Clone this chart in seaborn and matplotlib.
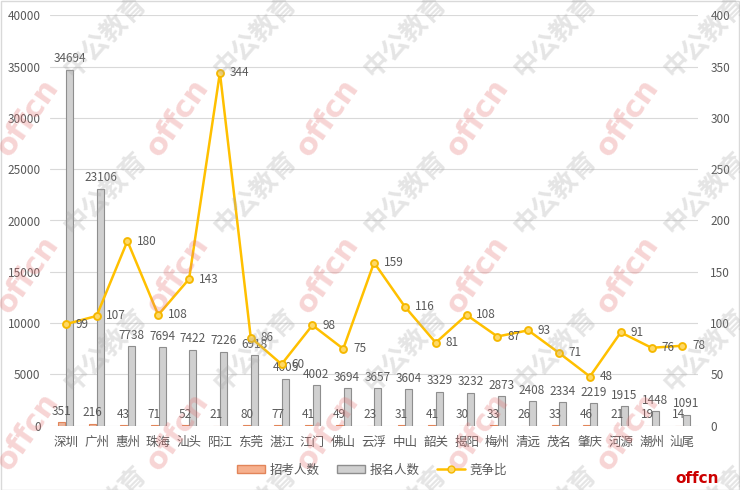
import numpy as np
import pandas as pd
import matplotlib
matplotlib.use('Agg')
import matplotlib.pyplot as plt
import seaborn as sns
from matplotlib.patches import Patch, Rectangle
from matplotlib.lines import Line2D

# ----------------------------
# 数据
# ----------------------------
cities = ['深圳', '广州', '惠州', '珠海', '汕头', '阳江', '东莞', '湛江', '江门', '佛山', '云浮',
          '中山', '韶关', '揭阳', '梅州', '清远', '茂名', '肇庆', '河源', '潮州', '汕尾']
zhaokao = [351, 216, 43, 71, 52, 21, 80, 77, 41, 49, 23, 31, 41, 30, 33, 26, 33, 46, 21, 19, 14]
baoming = [34694, 23106, 7738, 7694, 7422, 7226, 6918, 4605, 4002, 3694, 3657, 3604, 3329, 3232,
           2873, 2408, 2334, 2219, 1915, 1448, 1091]
jingzheng = [99, 107, 180, 108, 143, 344, 86, 60, 98, 75, 159, 116, 81, 108, 87, 93, 71, 48, 91, 76, 78]

left_ticks = list(range(0, 40001, 5000))
right_ticks = list(range(0, 401, 50))

TXT = '#595959'
ORANGE = '#F6B08E'
GRAY = '#D0D0D0'
GOLD = '#FFC000'

sns.set_theme(style='white')
plt.rcParams['font.family'] = ['Noto Sans CJK SC', 'DejaVu Sans']

df = pd.DataFrame({
    '城市': cities * 2,
    '人数': zhaokao + baoming,
    '类别': ['招考人数'] * len(cities) + ['报名人数'] * len(cities),
})

fig = plt.figure(figsize=(7.4, 4.9), dpi=100)
ax = fig.add_axes([0.068, 0.131, 0.875, 0.838])

sns.barplot(data=df, x='城市', y='人数', hue='类别', palette=[ORANGE, GRAY],
            width=0.5, gap=0.1, ax=ax, legend=False, linewidth=0.8)
edge_cols = ['#E2855A', '#8E8E8E']
for cont, ec in zip(ax.containers, edge_cols):
    for b in cont:
        b.set_edgecolor(ec)
    ax.bar_label(cont, fontsize=8.5, color=TXT, padding=3)

ax.set_ylim(0, 40000)
ax.set_yticks(left_ticks)
ax.yaxis.grid(True, color='#D9D9D9', lw=0.8)
ax.set_axisbelow(True)
ax.set_xlabel('')
ax.set_ylabel('')
ax.tick_params(axis='y', length=0, labelsize=8.5, labelcolor=TXT, pad=7)
ax.tick_params(axis='x', length=0, labelsize=9, labelcolor=TXT, pad=7)
for s in ax.spines.values():
    s.set_visible(False)

# 竞争比折线（右轴）
ax2 = ax.twinx()
sns.pointplot(x=cities, y=jingzheng, ax=ax2, color=GOLD, markers='o', errorbar=None,
              markersize=5, linewidth=1.8)
for ln in ax2.lines:
    ln.set_markerfacecolor('#FFD966')
    ln.set_markeredgecolor('#F5B800')
for i, v in enumerate(jingzheng):
    ax2.annotate(str(v), (i, v), xytext=(7, 0), textcoords='offset points',
                 va='center', ha='left', fontsize=8.5, color=TXT)
ax2.set_ylim(0, 400)
ax2.set_yticks(right_ticks)
ax2.set_xlim(ax.get_xlim())
ax2.set_ylabel('')
ax2.set_xlabel('')
ax2.grid(False)
ax2.tick_params(axis='y', length=0, labelsize=8.5, labelcolor=TXT, pad=9)
ax2.tick_params(axis='x', length=0, labelbottom=False)
for s in ax2.spines.values():
    s.set_visible(False)

# 图例
handles = [
    Patch(facecolor=ORANGE, edgecolor=edge_cols[0], label='招考人数'),
    Patch(facecolor=GRAY, edgecolor=edge_cols[1], label='报名人数'),
    Line2D([0], [0], color=GOLD, lw=1.8, marker='o', markersize=5,
           markerfacecolor='#FFD966', markeredgecolor='#F5B800', label='竞争比'),
]
fig.legend(handles=handles, loc='center', bbox_to_anchor=(0.503, 0.041), ncol=3,
           frameon=False, fontsize=9, labelcolor=TXT, handlelength=2.2,
           columnspacing=1.4, handletextpad=0.4)

# 水印
for xs in range(28, 800, 150):
    for ys in range(-40, 600, 157):
        fig.text(xs / 740, 1 - ys / 490, 'offcn', color='#E57373', alpha=0.3, fontsize=22,
                 fontweight='bold', rotation=55, ha='center', va='center',
                 family='DejaVu Sans')
        fig.text((xs + 78) / 740, 1 - (ys - 80) / 490, '中公教育', color='#A8A8A8', alpha=0.3,
                 fontsize=19, fontweight='bold', rotation=45, ha='center', va='center')

fig.text(0.942, 0.024, 'offcn', color='#CC0000', fontsize=11, fontweight='bold',
         ha='center', va='center', family='DejaVu Sans')

fig.patches.append(Rectangle((0.001, 0.001), 0.998, 0.997, transform=fig.transFigure,
                             fill=False, edgecolor='#D9D9D9', lw=1))

fig.savefig('out.png', dpi=100)
